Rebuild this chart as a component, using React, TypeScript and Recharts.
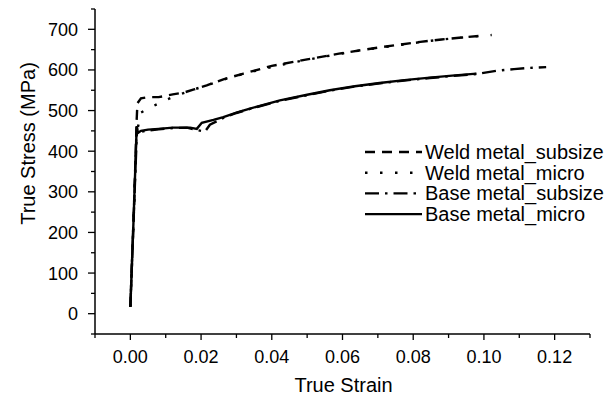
import React from 'react';
import { LineChart, Line, XAxis, YAxis, Legend } from 'recharts';

// strain / stress pairs
const weldSubsizeStrain = [0, 0.001, 0.0018, 0.002, 0.003, 0.005, 0.008, 0.012, 0.015, 0.018, 0.0216, 0.0263, 0.032, 0.04, 0.05, 0.059, 0.067, 0.075, 0.082, 0.088, 0.094, 0.099];
const weldSubsizeStress = [17, 250, 480, 518, 530, 533, 533, 540, 544, 552, 562, 577, 591, 610, 626, 640, 651, 661, 669, 675, 680, 684];

const weldMicroStrain = [0, 0.001, 0.0017, 0.003, 0.006, 0.01, 0.014, 0.018, 0.022, 0.028, 0.035, 0.045, 0.055, 0.065, 0.075, 0.085, 0.094, 0.1022];
const weldMicroStress = [17, 260, 440, 495, 509, 526, 540, 552, 563, 581, 597, 617, 633, 648, 660, 672, 680, 686];

const baseSubsizeStrain = [0, 0.0009, 0.0019, 0.0021, 0.003, 0.005, 0.008, 0.012, 0.016, 0.0188, 0.0211, 0.0225, 0.0263, 0.03, 0.0338, 0.0423, 0.05, 0.0564, 0.0635, 0.0705, 0.0775, 0.0847, 0.091, 0.0979, 0.1035, 0.1085, 0.1129, 0.1176];
const baseSubsizeStress = [17, 230, 458, 442, 448, 451, 454, 457, 458, 452, 448, 465, 482, 494, 504, 524, 538, 549, 559, 567, 574, 580, 585, 590, 598, 602, 605, 607];

const baseMicroStrain = [0, 0.0009, 0.0018, 0.002, 0.003, 0.005, 0.008, 0.012, 0.0169, 0.0188, 0.0202, 0.0235, 0.0263, 0.03, 0.0338, 0.0423, 0.05, 0.0564, 0.0635, 0.0705, 0.0775, 0.0847, 0.091, 0.0979];
const baseMicroStress = [17, 230, 462, 444, 450, 453, 455, 458, 458, 455, 470, 477, 484, 495, 505, 525, 539, 550, 560, 568, 575, 581, 586, 591];

const xMajorTicks = [0, 0.02, 0.04, 0.06, 0.08, 0.1, 0.12];
const xTickLabels = ['0.00', '0.02', '0.04', '0.06', '0.08', '0.10', '0.12'];
const xMinorTicks = [-0.01, 0.01, 0.03, 0.05, 0.07, 0.09, 0.11, 0.13];

const yMajorTicks = [0, 100, 200, 300, 400, 500, 600, 700];
const yTickLabels = ['0', '100', '200', '300', '400', '500', '600', '700'];
const yMinorTicks = [-50, 50, 150, 250, 350, 450, 550, 650, 750];

const zip = (xs: number[], ys: number[]) => xs.map((x, i) => ({ x, y: ys[i] }));

const series = [
  { name: 'Weld metal_subsize', data: zip(weldSubsizeStrain, weldSubsizeStress), dash: '10 7' },
  { name: 'Weld metal_micro', data: zip(weldMicroStrain, weldMicroStress), dash: '2.5 12.5' },
  { name: 'Base metal_subsize', data: zip(baseSubsizeStrain, baseSubsizeStress), dash: '14 6 2.5 6' },
  { name: 'Base metal_micro', data: zip(baseMicroStrain, baseMicroStress), dash: undefined },
];

const FONT = 'Arial, "Liberation Sans", sans-serif';

const findMajor = (v: number, majors: number[]) => majors.findIndex((m) => Math.abs(m - v) < 1e-6);

const XTick = (props: any) => {
  const { x, y, payload } = props;
  const idx = findMajor(payload.value, xMajorTicks);
  const major = idx >= 0;
  return (
    <g>
      <line x1={x} x2={x} y1={y} y2={y + (major ? 6 : 4)} stroke="#000" strokeWidth={1.3} />
      {major && (
        <text x={x} y={y + 28.5} textAnchor="middle" fontSize={18} fontFamily={FONT} fill="#000">
          {xTickLabels[idx]}
        </text>
      )}
    </g>
  );
};

const YTick = (props: any) => {
  const { x, y, payload } = props;
  const idx = findMajor(payload.value, yMajorTicks);
  const major = idx >= 0;
  return (
    <g>
      <line x1={x} x2={x - (major ? 7 : 4)} y1={y} y2={y} stroke="#000" strokeWidth={1.3} />
      {major && (
        <text x={x - 17} y={y + 6.5} textAnchor="end" fontSize={18} fontFamily={FONT} fill="#000">
          {yTickLabels[idx]}
        </text>
      )}
    </g>
  );
};

const renderLegend = () => (
  <svg width={250} height={90}>
    {series.map((s, i) => {
      const cy = 12 + i * 20.7;
      return (
        <g key={s.name}>
          <line x1={3} x2={60} y1={cy} y2={cy} stroke="#000" strokeWidth={2.4} strokeDasharray={s.dash} />
          <text x={63} y={cy + 7} fontSize={20} fontFamily={FONT} fill="#000">
            {s.name}
          </text>
        </g>
      );
    })}
  </svg>
);

const App = () => {
  const xTicks = [...xMinorTicks, ...xMajorTicks].sort((a, b) => a - b);
  const yTicks = [...yMinorTicks, ...yMajorTicks].sort((a, b) => a - b);
  return (
    <div style={{ position: 'absolute', left: 0, top: 0, background: '#fff' }}>
      <LineChart width={613} height={398} margin={{ top: 9, right: 23, left: 0, bottom: 0 }}>
        <XAxis
          type="number"
          dataKey="x"
          domain={[-0.01, 0.13]}
          ticks={xTicks}
          interval={0}
          allowDataOverflow
          height={64}
          tickSize={0}
          tickMargin={0}
          tickLine={false}
          tick={<XTick />}
          axisLine={{ stroke: '#000', strokeWidth: 1.5 }}
          label={{
            content: () => (
              <text x={343.5} y={392} textAnchor="middle" fontSize={20} fontFamily={FONT} fill="#000">
                True Strain
              </text>
            ),
          }}
        />
        <YAxis
          type="number"
          dataKey="y"
          domain={[-50, 750]}
          ticks={yTicks}
          interval={0}
          allowDataOverflow
          width={95}
          tickSize={0}
          tickMargin={0}
          tickLine={false}
          tick={<YTick />}
          axisLine={{ stroke: '#000', strokeWidth: 1.5 }}
          label={{
            content: () => (
              <text
                x={35}
                y={143.5}
                textAnchor="middle"
                transform="rotate(-90 35 143.5)"
                fontSize={20}
                fontFamily={FONT}
                fill="#000"
              >
                True Stress (MPa)
              </text>
            ),
          }}
        />
        <Legend
          layout="vertical"
          align="center"
          verticalAlign="middle"
          content={renderLegend}
          wrapperStyle={{ position: 'absolute', left: 362, top: 140, width: 250, height: 90 }}
        />
        {series.map((s) => (
          <Line
            key={s.name}
            data={s.data}
            dataKey="y"
            name={s.name}
            type="linear"
            stroke="#000"
            strokeWidth={2.4}
            strokeDasharray={s.dash}
            dot={false}
            activeDot={false}
            isAnimationActive={false}
          />
        ))}
      </LineChart>
    </div>
  );
};

export default App;
